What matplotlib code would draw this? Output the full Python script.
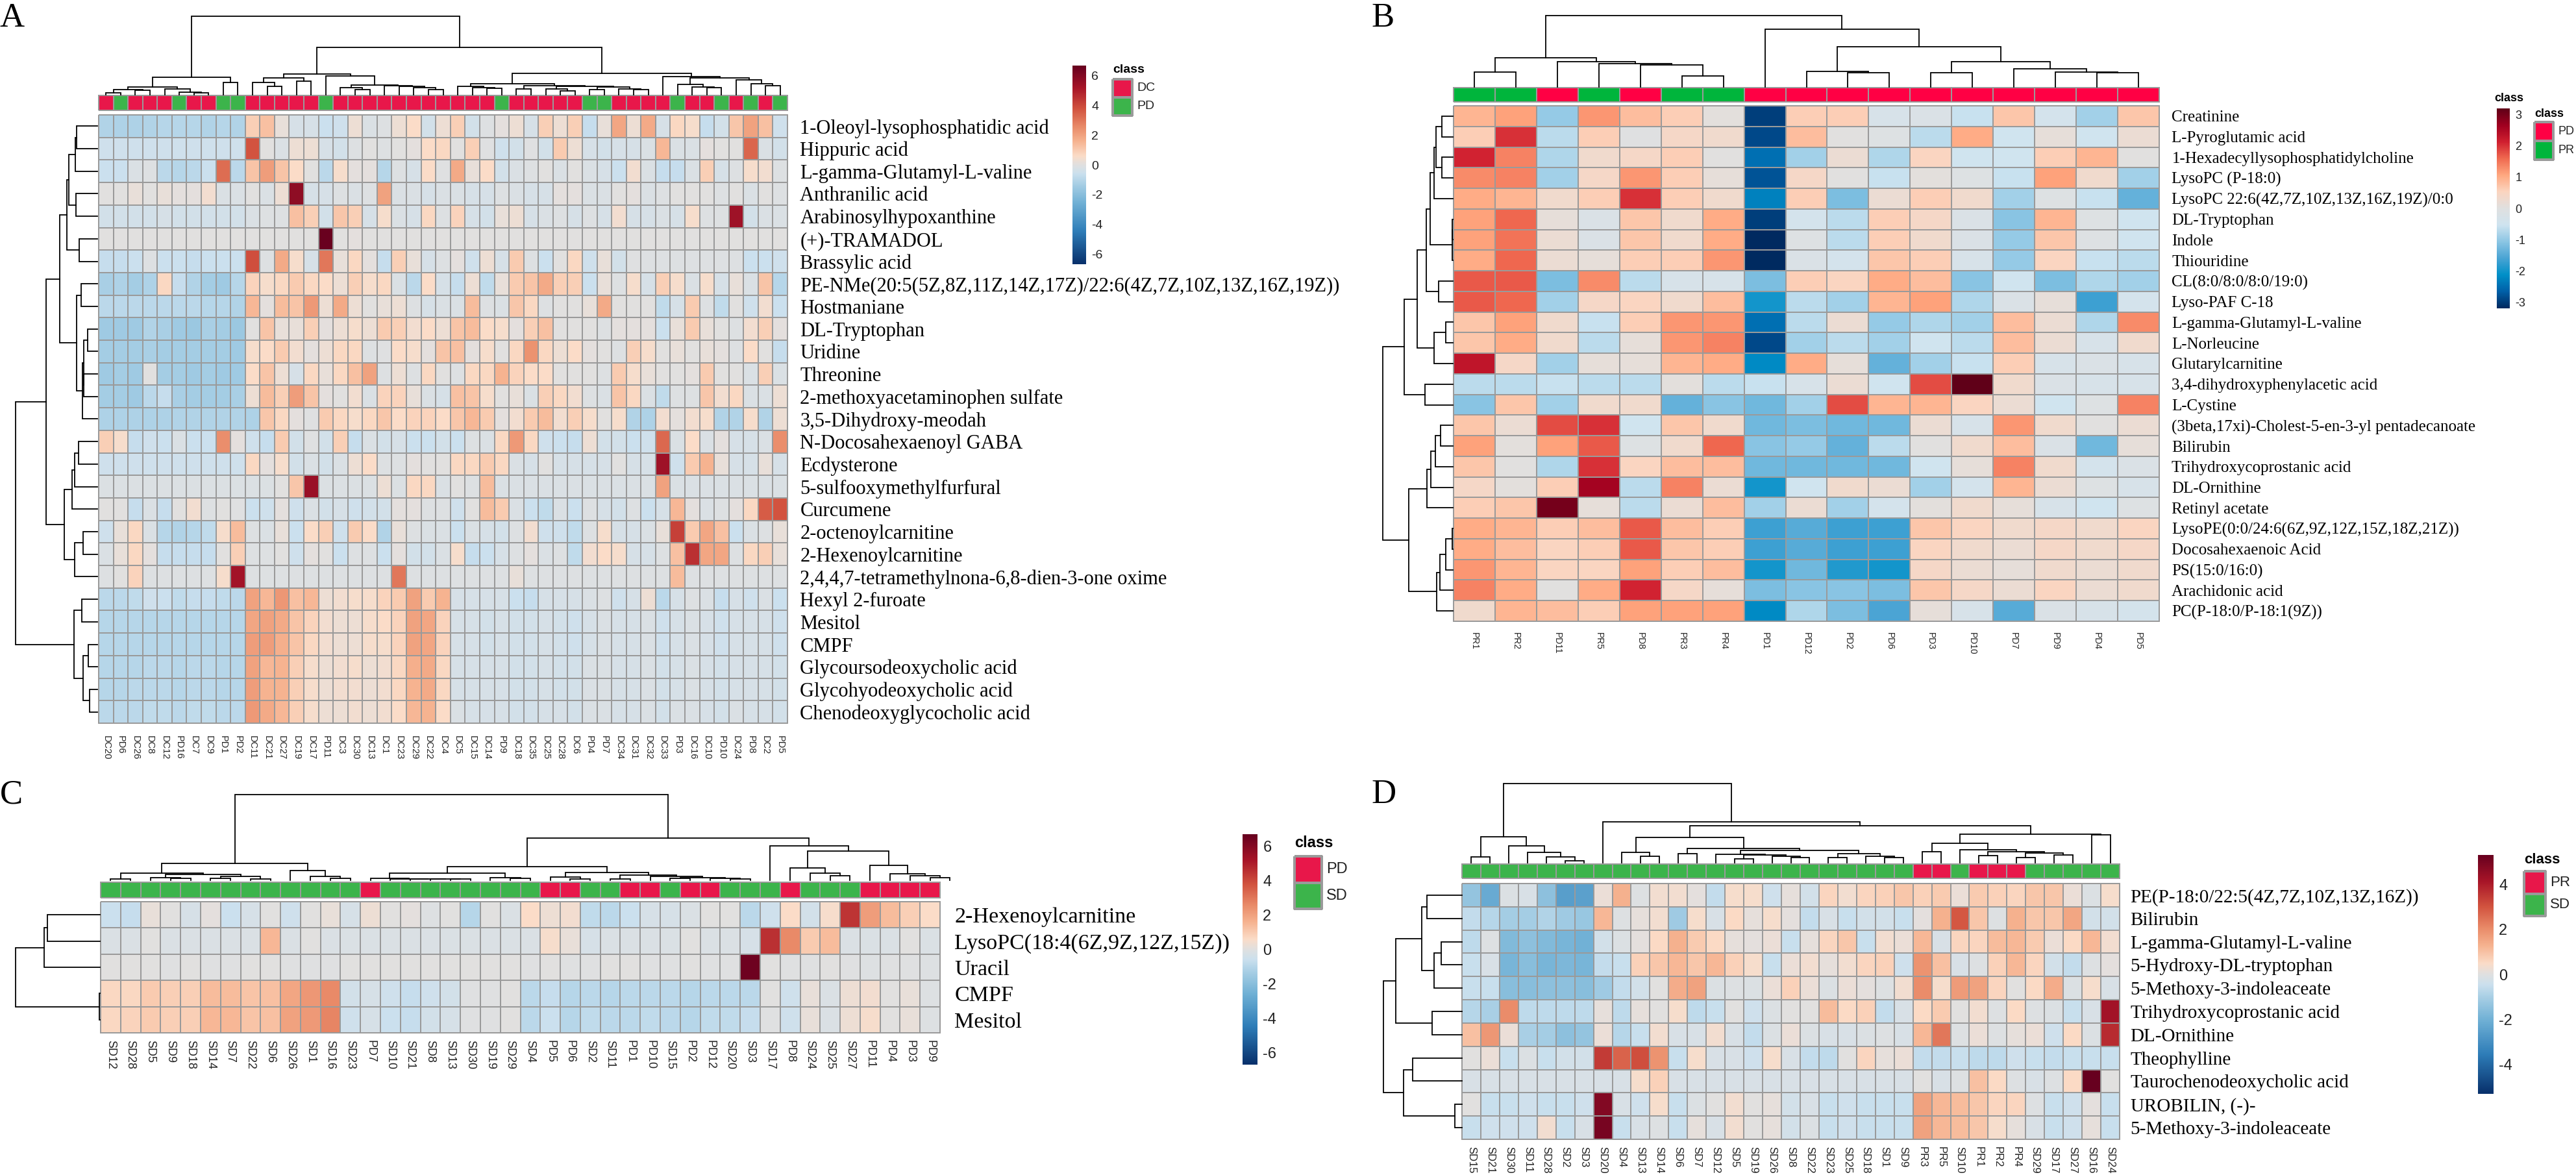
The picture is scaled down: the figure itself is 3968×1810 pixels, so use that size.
import matplotlib
matplotlib.use("Agg")
import matplotlib.pyplot as plt
import numpy as np
from matplotlib.colors import LinearSegmentedColormap, ListedColormap

W, H = 3968, 1810

a_rows = ["1-Oleoyl-lysophosphatidic acid", "Hippuric acid", "L-gamma-Glutamyl-L-valine", "Anthranilic acid",
          "Arabinosylhypoxanthine", "(+)-TRAMADOL", "Brassylic acid",
          "PE-NMe(20:5(5Z,8Z,11Z,14Z,17Z)/22:6(4Z,7Z,10Z,13Z,16Z,19Z))", "Hostmaniane", "DL-Tryptophan", "Uridine",
          "Threonine", "2-methoxyacetaminophen sulfate", "3,5-Dihydroxy-meodah", "N-Docosahexaenoyl GABA",
          "Ecdysterone", "5-sulfooxymethylfurfural", "Curcumene", "2-octenoylcarnitine", "2-Hexenoylcarnitine",
          "2,4,4,7-tetramethylnona-6,8-dien-3-one oxime", "Hexyl 2-furoate", "Mesitol", "CMPF",
          "Glycoursodeoxycholic acid", "Glycohyodeoxycholic acid", "Chenodeoxyglycocholic acid"]
a_cols = ["DC20", "PD6", "DC26", "DC8", "DC12", "PD16", "DC7", "DC9", "PD1", "PD2", "DC11", "DC21", "DC27", "DC19",
          "DC17", "PD11", "DC3", "DC30", "DC13", "DC1", "DC23", "DC29", "DC22", "DC4", "DC5", "DC15", "DC14", "PD9",
          "DC18", "DC35", "DC25", "DC28", "DC6", "PD4", "PD7", "DC34", "DC31", "DC32", "DC33", "PD3", "DC16", "DC10",
          "PD10", "DC24", "PD8", "DC2", "PD5"]
a_class = [0, 1, 0, 0, 0, 1, 0, 0, 1, 1, 0, 0, 0, 0, 0, 1, 0, 0, 0, 0, 0, 0, 0, 0, 0, 0, 0, 1, 0, 0, 0, 0, 0, 1, 1, 0,
           0, 0, 0, 1, 0, 0, 1, 0, 1, 0, 1]
a_values = [
    [-1.1, -1.2, -1.2, -1.1, -1.0, -1.0, -1.0, -1.1, -1.0, -1.1, .9, 1.3, .2, -.3, -.3, -.6, -.5, .3, -.2, -.1, .3, .6, -.4, .3, .9, -.4, -.1, .1, .3, -.3, .9, .3, .9, -.7, .2, 1.9, .3, 1.8, -.3, .7, .5, -.7, -.4, 1.1, 2.0, 1.3, -.5],
    [-.5, -.5, -.5, -.5, -.5, -.5, -.5, -.5, -.5, -.5, 3.8, 0, -.2, .3, .3, -.3, -.4, -.1, 0, -.1, 0, .1, .6, .7, 0, .9, -.05, -.5, -.4, -.05, -.4, 1.0, .3, -.3, -.4, -.3, -.3, -.2, 1.5, -.2, -.2, .1, 0, 0, 3.4, -.2, -.4],
    [-.6, -.6, -.2, -.1, -.9, -1.0, -.9, -.6, 3.2, -.9, 1.2, 2.1, 1.2, .6, .05, -.9, .5, .1, .1, -1.0, -.1, -.3, .6, -.05, 1.8, .2, .6, -.4, -.2, -.1, 0, -.2, 0, -.2, -.3, -.6, .4, -.2, -.7, -.7, -.2, .9, -.3, -.1, .5, .4, -.1],
    [.05, .05, .2, .05, .2, .1, .1, .4, -.2, -.2, .05, -.2, .3, 5.8, -.3, -.3, -.1, -.2, -.1, 2.0, -.2, -.2, -.3, -.2, -.2, -.3, -.3, -.1, -.2, -.3, -.3, .1, .1, -.2, -.2, .05, .1, -.2, -.1, .05, .05, .05, -.1, .05, -.2, 0, -.1],
    [-.4, -.4, -.4, -.4, -.3, -.4, -.4, -.4, -.4, -.4, -.2, -.1, -.1, 1.3, .9, -.4, 1.1, .9, -.3, .5, -.2, -.3, .7, -.1, .8, -.3, -.4, .2, .3, -.3, -.2, -.1, -.3, -.1, -.3, .4, -.3, -.3, -.2, -.3, .5, -.1, -.1, 5.4, -.4, -.2, -.2],
    [.05, .05, .05, .05, .05, .05, .05, .05, .05, .05, .05, .05, .05, 0, 0, 6.6, .05, .1, .05, .05, .05, .05, .05, .05, .05, .05, .05, .05, .05, .05, .05, .05, .05, .05, .05, .05, .05, .05, .05, .05, .05, .05, .05, .05, .05, .05, .05],
    [-.7, -.7, -.6, -.1, -.6, -.6, -.7, -.6, -.6, -.6, 3.9, -.1, 1.8, .5, -.3, 3.0, .2, .7, .1, -.7, .9, .2, -.3, -.1, .1, -.5, .3, -.3, 1.0, -.1, -.6, 0, .7, -.5, .2, -.4, -.05, -.1, -.1, -.1, -.1, -.1, -.1, -.1, -.6, -.6, -.5],
    [-1.3, -1.2, -1.4, -1.2, .7, -.7, -1.1, -1.4, -1.5, -1.0, .8, .5, .7, 1.0, .7, .6, .3, .9, .5, .7, -.2, -.9, .6, -.3, -.7, .3, -.8, .2, 1.0, 1.2, 1.8, .9, .9, -.6, .2, -.1, .5, -.3, .9, .5, -.2, .5, -.3, .2, -.2, 1.2, -1.0],
    [-.9, -.9, -.9, -.9, -.9, -.9, -.9, -1.0, -1.0, -1.1, 1.5, .1, 1.4, 1.2, 2.2, .3, 1.8, .3, .05, .2, .3, -.1, -.3, -.2, -.2, 1.4, -.1, -.2, 1.1, .7, -.1, 0, 0, .2, 1.8, 0, 0, 0, -.8, -.3, 1.0, -.1, -.8, 0, -.5, .4, -.6],
    [-1.5, -1.5, -1.5, -1.1, -1.3, -1.5, -1.6, -1.3, -1.4, -1.6, 0, 1.2, .2, .2, .9, .1, .3, .5, .3, 1.0, .9, .4, .6, .3, 1.2, 1.4, .6, .5, .1, .9, 1.3, 0, 0, 0, -.1, .1, .1, .1, -.6, .2, 1.0, .2, 0, -.1, .4, .9, .1],
    [-1.4, -1.4, -1.4, -1.3, -1.4, -1.4, -1.4, -1.4, -1.4, -1.5, .5, .6, 1.0, .4, .1, .3, .7, .7, -.1, -.05, .6, .5, .1, 1.2, 1.3, .1, .5, .05, .7, 2.4, .7, .3, .6, .1, 0, -.1, .9, .5, 0, .2, 0, .2, .1, -.1, .6, 0, -.7],
    [-1.5, -1.4, -1.5, 0, -1.4, -1.4, -1.5, -1.4, -1.5, -1.5, .6, 1.2, .3, -.3, .7, .2, .7, 1.3, 2.0, -.1, .3, -.1, .7, 0, -.1, .7, .7, 1.6, .8, .6, .6, 0, 0, 0, -.1, 1.0, .5, .2, 0, 0, .1, 1.0, 0, 0, -.2, .9, -.2],
    [-1.4, -1.4, -1.5, -.9, -.7, -1.3, -1.4, -1.4, -1.4, -1.3, .3, 1.4, .9, 2.1, 1.2, .1, 0, .4, -.2, .8, .8, .2, -.2, -.3, 1.3, 1.2, .5, 0, .2, -.2, .9, .7, .4, -.1, -.2, 1.2, .7, -.2, -.8, -.1, -.1, 1.1, .4, .7, -.2, -.2, .3],
    [-1.2, -1.2, -1.2, -1.2, -1.2, -1.1, -1.1, -1.1, -1.1, -1.1, -1.2, 1.1, .7, .1, -.05, 1.0, .7, .5, .7, 1.1, .6, .8, .8, .6, 1.1, 1.5, 1.0, .1, .4, 1.0, 1.4, .4, .9, .5, 0, .5, -1.1, -1.2, .4, .1, .4, .5, -1.1, -1.1, .5, -1.1, .3],
    [.9, .5, -.7, -.5, -.6, -.2, -.6, -.6, 2.5, .1, -.5, -.7, 1.0, -.4, -.05, -.4, .9, -.7, -.2, -.4, -.3, -.6, -.6, -.4, -.6, -.1, -.2, .7, 2.2, .7, -.5, -.6, -.7, .3, -.4, -.4, -.6, -.5, 3.3, -.2, .6, -.2, .1, -.3, -.3, -.2, 2.5],
    [-.5, -.5, -.5, -.5, -.5, -.5, -.5, -.5, -.5, -.5, .7, .1, .5, -.4, -.2, -.4, -.2, .3, .6, -.1, -.1, .1, 0, .05, .7, .7, 1.0, .7, -.2, -.3, 0, -.3, -.3, -.3, -.3, 0, -.3, -.3, 5.4, -.5, 1.0, 1.6, .2, -.3, -.3, .2, -.3],
    [-.15, -.15, -.15, -.15, -.15, -.15, -.15, -.15, -.15, -.15, -.15, -.15, .05, 1.1, 5.5, -.15, -.15, -.15, -.15, .3, -.15, .7, .7, -.2, 0, -.1, 1.4, -.2, -.2, -.2, -.2, -.2, -.2, -.2, -.2, -.2, -.2, -.2, 2.0, -.2, -.2, -.2, -.2, -.2, -.2, -.2, -.2],
    [.05, 0, -.7, -.2, -.7, .05, .4, -.1, 0, -.05, -.6, -.5, .1, -.5, -.2, -.4, -.3, -.5, -.4, -.4, .1, .1, -.1, -.1, -.5, .05, 1.4, 1.0, -.2, -.6, -.8, -.2, -.6, -.1, -.3, -.4, -.1, -.6, -.3, 1.5, .1, -.2, -.1, .1, .7, 3.6, 3.8],
    [-.5, .2, .7, -.2, -1.0, -1.1, -1.0, -.8, .5, 1.4, -.1, -.2, .2, -.6, .6, .9, -.5, 1.0, .6, -1.1, .2, -.1, -.2, -.2, -.6, -.2, -.3, -.4, -.1, .4, -.5, -.5, -.8, -.1, .5, -.3, -.3, -.2, .2, 4.2, 1.0, 1.9, 1.3, -.6, -.2, -.1, .2],
    [-.2, .2, .7, .1, -.7, -.7, -.7, -.7, 0, .9, -.1, -.1, 0, -.5, .1, 0, -.6, -.1, -.1, -.6, .1, -.4, -.4, -.2, .5, -.7, -.6, -.3, -.1, .1, -.2, -.1, -.8, .4, .6, .5, -.3, -.3, -.1, 1.3, 4.6, 1.9, 1.9, -.1, .7, .9, .2],
    [-.1, .05, .8, -.1, -.1, -.1, -.1, -.1, .5, 5.3, -.1, -.1, -.1, -.1, -.1, -.1, -.1, -.1, -.1, -.1, 3.0, -.1, -.1, -.1, -.1, -.1, -.1, -.1, .2, -.1, -.1, -.1, -.1, -.1, -.1, -.1, -.1, -.1, -.1, 1.4, -.1, -.1, -.1, -.1, -.1, -.1, -.1],
    [-.9, -.9, -.8, -.5, -.6, -.8, -.7, -.7, -.8, -.9, 2.0, 1.5, 2.3, 1.3, 1.5, .3, .4, .5, .5, .8, 1.0, 2.0, 1.0, 1.6, -.3, -.3, -.3, -.3, -.6, -.7, -.3, -.3, -.3, -.2, -.1, -.5, -.3, .3, -.9, -.3, -.1, -.2, -.7, -.3, -.5, -.2, -.6],
    [-1.0, -1.0, -1.0, -1.0, -1.0, -1.0, -1.0, -1.0, -1.0, -1.0, 1.9, 2.0, 1.8, 1.2, .8, .4, .3, .3, .5, .6, .8, 2.0, 1.9, .8, -.3, -.3, -.4, -.3, -.4, -.4, -.3, -.4, -.5, -.3, -.2, -.3, -.3, -.2, -.5, -.3, -.2, -.3, -.5, -.3, -.3, -.3, -.5],
    [-1.0, -1.0, -1.0, -1.0, -1.0, -1.0, -1.0, -1.0, -1.0, -1.0, 2.1, 2.1, 1.7, 1.2, .7, .4, .3, .3, .5, .5, .8, 2.0, 1.9, .8, -.3, -.3, -.4, -.3, -.4, -.4, -.3, -.4, -.5, -.3, -.2, -.3, -.3, -.2, -.5, -.3, -.2, -.3, -.5, -.3, -.3, -.3, -.5],
    [-1.0, -1.0, -1.0, -.9, -.9, -1.0, -.9, -.9, -1.0, -1.0, 2.0, 1.5, 1.6, .9, .5, .3, .4, .5, .3, .4, .7, 1.7, 1.8, .7, -.3, -.3, -.3, -.3, -.4, -.4, -.3, -.4, -.4, -.2, -.2, -.3, -.3, -.2, -.4, -.3, -.2, -.3, -.4, -.3, -.3, -.3, -.4],
    [-1.0, -1.0, -.9, -.9, -.9, -1.0, -.9, -.9, -1.0, -1.0, 2.1, 1.6, 1.6, .9, .5, .3, .4, .4, .3, .4, .7, 1.6, 1.8, .7, -.3, -.3, -.3, -.3, -.4, -.4, -.3, -.4, -.4, -.2, -.2, -.3, -.3, -.2, -.4, -.3, -.2, -.3, -.4, -.3, -.3, -.3, -.4],
    [-.9, -.9, -.9, -.8, -.8, -.9, -.8, -.8, -.9, -.9, 2.2, 1.8, 1.5, .9, .5, .3, .3, .4, .3, .4, .6, 1.5, 1.6, .6, -.2, -.3, -.3, -.3, -.4, -.4, -.3, -.3, -.4, -.2, -.2, -.3, -.3, -.2, -.4, -.2, -.2, -.3, -.4, -.2, -.3, -.3, -.4],
]
# (merge height in px, left branch, right branch); 0 is a leaf
a_col_tree = (121,
              (27, (12, (8, (3, 0, 0), (7, 0, 0)), (9, 0, (4, 0, (3, 0, 0)))), (19, 0, 0)),
              (73,
               (32, (26, (19, 0, (13, 0, 0)), (21, 0, 0)),
                (29, 0, (15, (11, 0, (8, 0, 0)), (14, 0, (13, 0, (11, 0, (8, 0, 0))))))),
               (33,
                (17, (13, 0, (11, 0, (10, 0, 0))),
                 (14, (9, 0, 0), (13, (9, 0, (6, 0, 0)), (12, (8, 0, 0), (9, 0, (8, 0, 0)))))),
                (28, 0, (26, (16, 0, (12, 0, (11, 0, 0))), (23, 0, (17, 0, (14, 0, 0))))))))
a_row_tree = (126,
              (79,
               (58,
                (47, (44, (34, (32, 0, 0), 0), (33, 0, 0)), (28, 0, 0)),
                (32, (25, 0, 0), (23, (21.5, (15, 0, 0), (21, 0, 0)), 0))),
               (51, (39, (35, (29, 0, 0), 0), 0), (35, (22, 0, 0), 0))),
              (36, (24, 0, 0), (22, (14, 0, 0), (12, 0, 0))))

b_rows = ["Creatinine", "L-Pyroglutamic acid", "1-Hexadecyllysophosphatidylcholine", "LysoPC (P-18:0)",
          "LysoPC 22:6(4Z,7Z,10Z,13Z,16Z,19Z)/0:0", "DL-Tryptophan", "Indole", "Thiouridine", "CL(8:0/8:0/8:0/19:0)",
          "Lyso-PAF C-18", "L-gamma-Glutamyl-L-valine", "L-Norleucine", "Glutarylcarnitine",
          "3,4-dihydroxyphenylacetic acid", "L-Cystine", "(3beta,17xi)-Cholest-5-en-3-yl pentadecanoate", "Bilirubin",
          "Trihydroxycoprostanic acid", "DL-Ornithine", "Retinyl acetate", "LysoPE(0:0/24:6(6Z,9Z,12Z,15Z,18Z,21Z))",
          "Docosahexaenoic Acid", "PS(15:0/16:0)", "Arachidonic acid", "PC(P-18:0/P-18:1(9Z))"]
b_cols = ["PR1", "PR2", "PD11", "PR5", "PD8", "PR3", "PR4", "PD1", "PD12", "PD2", "PD6", "PD3", "PD10", "PD7", "PD9",
          "PD4", "PD5"]
b_class = [1, 1, 0, 1, 0, 1, 1, 0, 0, 0, 0, 0, 0, 0, 0, 0, 0]
b_values = [
    [.9, 1.1, -1.0, 1.2, .8, .6, .05, -3.0, .6, .6, -.3, -.2, -.6, .7, -.4, -.9, .7],
    [.6, 2.0, -.7, .6, -.05, .4, .3, -2.9, .8, 0, -.1, -.7, 1.0, -.5, .1, -.5, .2],
    [2.1, 1.4, -.8, .3, .4, .6, 0, -2.5, -.9, .2, -.8, .5, -.5, -.5, .6, .9, 0],
    [1.3, 1.4, -.9, .4, 1.2, .6, .1, -2.8, .4, 0, -.6, .05, -.1, -.6, 1.1, .3, -.9],
    [1.0, .9, .3, .6, 2.0, .6, .3, -2.3, .6, -1.2, .2, .6, .3, -.9, -.1, -.6, -1.4],
    [1.1, 1.6, .1, -.2, .7, .3, 1.0, -3.0, -.4, -.7, .6, .4, -.2, -1.1, .9, -.1, -.5],
    [1.1, 1.5, .2, -.2, .7, .3, 1.0, -3.2, -.1, -.7, .6, .3, -.2, -1.0, .7, -.1, -.5],
    [1.0, 1.6, .2, .1, .6, .6, 1.2, -3.2, -.2, -.4, .7, .6, -.3, -1.0, .5, -.6, -.7],
    [1.7, 1.7, -1.2, 1.3, -.7, -.3, -.3, -1.2, .6, .5, 1.0, .8, -1.1, -.5, -1.2, -.8, -.9],
    [1.7, 1.6, -.9, .4, .5, .3, .8, -2.0, -.7, -.9, .9, 1.1, -.8, -.2, .1, -1.7, -.4],
    [.7, 1.1, .3, -.6, .6, 1.2, 1.2, -2.5, -.7, .2, -1.0, -.8, -.9, .8, .2, -.8, 1.3],
    [.7, 1.0, .3, -.7, .1, 1.2, 1.4, -2.9, -.9, -.7, -.9, -.5, -.7, .8, .2, -.3, .3],
    [2.3, .4, -.9, .1, .1, .9, 1.0, -2.2, 1.0, .1, -1.4, -.9, -.6, .6, -.3, -.2, -.3],
    [-.7, -.7, -.6, -.7, -.7, .05, -.7, -.6, -.3, .2, -.5, 1.8, 3.2, .3, -.2, -.3, -.3],
    [-1.1, .7, -.9, .3, .3, -1.4, -1.1, -1.3, -.9, 1.8, .9, .9, .5, .2, -.5, -.1, 1.4],
    [.7, .2, 1.8, 2.0, -.5, .7, .3, -1.3, -1.2, -1.3, -1.3, .2, -.3, 1.2, .3, 0, .2],
    [1.1, .05, 1.1, 1.7, -.1, .3, 1.6, -1.1, -1.0, -1.4, -.7, 0, .3, .8, -.2, -1.3, .1],
    [.7, 0, -.8, 2.0, .5, .8, .8, -1.3, -1.3, -1.3, -1.3, -.5, .1, 1.4, .3, -.4, -.2],
    [.4, .05, .6, 2.6, -.7, 1.4, .2, -2.0, -.5, .3, .2, -.9, -.4, .9, .2, -.1, -.3],
    [.6, .7, 3.0, .1, -.7, .2, .8, -.9, .2, -.9, -.4, .05, .3, .1, -.3, -.5, -.1],
    [1.0, .9, .6, .8, 1.7, .8, .6, -1.7, -1.5, -1.7, -1.7, .7, .5, .3, .4, .3, .5],
    [1.0, .8, .5, .6, 1.7, .7, .6, -1.7, -1.5, -1.7, -1.7, .5, .3, .2, .4, .3, .4],
    [1.2, .9, .5, .5, 1.1, .6, .8, -2.0, -1.3, -1.9, -2.0, .4, .2, .1, .3, .2, .3],
    [1.4, 1.0, 0, 1.0, 2.1, .4, .1, -1.2, -1.1, -1.1, -1.2, .7, .4, .2, .5, .2, .3],
    [.3, .9, .8, .6, 1.1, 1.1, 1.1, -2.2, -.8, -1.2, -1.6, .1, -.3, -1.5, -.2, -.3, -.4],
]
b_col_tree = (110,
              (45, (23, 0, 0), (39, 0, (36, 0, (34, 0, (17, 0, 0))))),
              (89, 0, (62, (24, 0, (22, 0, 0)), (39, (22, 0, 0), (28, 0, (23, 0, (22, 0, 0)))))))
b_row_tree = (108,
              (75,
               (55,
                (41,
                 (35, (29, (26, (17, 0, 0), (17, 0, 0)), 0), (1.5, (1, 0, 0), 0)),
                 (22, 0, 0)),
                (29, (11, 0, 0), 0)),
               (43, 0, 0)),
              (68,
               (40, (34, (27, (19, 0, 0), 0), 0), 0),
               (25, (20, (11, (1, 0, 0), 0), 0), 0)))

c_rows = ["2-Hexenoylcarnitine", "LysoPC(18:4(6Z,9Z,12Z,15Z))", "Uracil", "CMPF", "Mesitol"]
c_cols = ["SD12", "SD28", "SD5", "SD9", "SD18", "SD14", "SD7", "SD22", "SD6", "SD26", "SD1", "SD16", "SD23", "PD7",
          "SD10", "SD21", "SD8", "SD13", "SD30", "SD19", "SD29", "SD4", "PD5", "PD6", "SD2", "SD11", "PD1", "PD10",
          "SD15", "PD2", "PD12", "SD20", "SD3", "SD17", "PD8", "SD24", "SD25", "SD27", "PD11", "PD4", "PD3", "PD9"]
c_class = [0 if s.startswith("PD") else 1 for s in c_cols]
c_values = [
    [-.6, -.7, .2, 0, -.3, .1, -.6, -.3, 0, -.5, 0, .2, -.3, .3, .05, .1, -.1, .05, -1.0, 0, -.2, .6, .3, .4, -.8, -.9, -.6, -.3, -.3, -.2, .05, .05, -.9, -.5, .6, -.4, .5, 4.5, 2.1, 1.4, .9, .6],
    [-.2, -.2, .05, -.2, -.2, -.2, -.2, -.2, 1.5, -.2, .05, -.2, -.2, -.2, -.2, -.2, -.2, -.2, -.2, -.2, -.2, -.2, .5, .2, -.3, -.2, -.2, -.2, -.2, 0, -.2, -.2, -.3, 4.6, 2.6, 1.0, 1.4, -.2, -.2, -.2, 0, -.2],
    [0, 0, 0, -.05, 0, -.05, -.05, 0, 0, -.05, -.05, -.05, 0, 0, .05, .05, .05, .05, 0, 0, 0, -.05, 0, -.05, -.05, 0, 0, -.05, -.05, 0, -.05, -.05, 6.5, 0, -.05, -.05, 0, -.05, -.1, -.05, -.05, -.1],
    [.7, .7, 1.0, .9, .9, 1.4, 1.4, 1.2, 1.3, 1.9, 2.3, 2.6, -.4, -.3, -.5, -.7, -.5, -.4, -.05, -.05, .05, -.9, -.7, -1.0, -.9, -1.0, -.9, -.9, -.9, -1.0, -.9, -.9, -.9, 0, -.5, .2, -.2, .3, .4, 0, .2, -.1],
    [.7, .8, 1.0, .9, .9, 1.5, 1.5, 1.2, 1.3, 2.0, 2.2, 2.7, -.5, -.3, -.6, -.7, -.4, -.3, -.05, -.05, .05, -.9, -.6, -1.0, -.8, -.9, -.9, -.8, -.9, -1.0, -.8, -.8, -.7, -.05, -.5, .2, -.2, .3, .5, 0, .2, -.1],
]
c_col_tree = (132,
              (26,
               (11, (2, 0, 0), (9, (4, 0, (3, 0, 0)), (6, (3, 0, 0), (2, 0, 0)))),
               (15, 0, (6, 0, (3, 0, 0)))),
              (65,
               (21,
                (11, (3, 0, (2.5, 0, (2, 0, (2, 0, (2, 0, 0))))), (4, 0, (3, 0, 0))),
                (12, (5, 0, (2.5, 0, 0)), (8, (2, 0, 0), (6, 0, (4, (3, 0, 0), (3, 0, (2, 0, 0))))))),
               (53, 0, (45, (19, 0, (11, 0, (7, 0, 0))), (23, 0, (10, 0, (7, 0, (4, 0, 0))))))))
c_row_tree = (130, (86, (81, 0, 0), 0), (1, 0, 0))

d_rows = ["PE(P-18:0/22:5(4Z,7Z,10Z,13Z,16Z))", "Bilirubin", "L-gamma-Glutamyl-L-valine", "5-Hydroxy-DL-tryptophan",
          "5-Methoxy-3-indoleaceate", "Trihydroxycoprostanic acid", "DL-Ornithine", "Theophylline",
          "Taurochenodeoxycholic acid", "UROBILIN, (-)-", "5-Methoxy-3-indoleaceate"]
d_cols = ["SD15", "SD21", "SD30", "SD11", "SD28", "SD2", "SD3", "SD20", "SD4", "SD13", "SD14", "SD6", "SD7", "SD12",
          "SD5", "SD19", "SD26", "SD8", "SD22", "SD23", "SD25", "SD18", "SD1", "SD9", "PR3", "PR5", "SD10", "PR1",
          "PR2", "PR4", "SD29", "SD17", "SD27", "SD16", "SD24"]
d_class = [0 if s.startswith("PR") else 1 for s in d_cols]
d_values = [
    [-1.4, -2.2, -.1, -.2, -1.5, -2.6, -2.5, .2, 1.3, -.05, .3, .3, .05, -.6, .4, .4, -.4, .1, -.3, .6, .3, .6, .7, .9, .7, .8, .2, .8, .7, .6, .9, .9, .2, -.1, .4],
    [-.6, -.8, -1.1, -1.1, -.9, -1.2, -1.3, 1.2, -.05, .1, .3, -1.2, .4, -.2, .5, .1, .4, .05, -.6, -.2, -.5, -.3, -.3, -.5, .05, 1.3, 2.9, .9, -.05, 1.3, .9, .9, 1.5, -.3, -.3],
    [-.7, -.05, -1.7, -1.5, -1.7, -1.9, -2.0, -.3, -.1, .05, .5, 1.3, .8, .5, .1, .05, .2, -.5, .1, .6, .9, -.5, .3, .2, 1.2, -.2, .6, .6, 1.1, 1.2, .8, .2, .5, 1.2, .3],
    [-.5, -.2, -1.9, -1.6, -1.9, -1.8, -1.9, -.6, -.5, .7, .9, 1.2, .9, 1.2, .7, .4, -.5, .2, .3, .1, .3, .6, .7, -.4, 1.9, 1.0, -.2, -.05, .7, 1.2, .6, -.3, -.6, -.05, .05],
    [-.5, -.5, -1.6, -1.6, -1.5, -1.5, -1.6, -1.2, -.6, -.3, 0, 1.4, 1.6, -.1, -.05, -.1, .2, .7, .2, -.1, .2, .05, -.05, .3, 2.0, .4, 1.7, 1.6, .6, 0, .5, 1.4, -.1, .4, -.2],
    [-.8, -1.0, 2.0, -.7, -.7, -.7, -.7, .1, -.7, .1, 0, .4, -.7, -.5, 0, -.4, -.1, 0, 0, 1.1, .5, .7, -.6, -.2, .5, .8, 0, .3, -.05, .5, -.05, -.1, -.5, -.2, 4.2],
    [1.0, 1.8, .2, -1.0, -1.1, -1.5, -1.4, .2, -.8, -.5, .3, -.2, -.2, .3, -.2, -.6, -.1, .2, -.1, -.2, -.2, -.1, -.05, -.2, 1.2, 2.4, -.05, .2, -.05, .1, .2, -.4, .5, -.1, 3.7],
    [0, .2, -.5, -.1, -.5, -.3, -.3, 3.4, 2.7, 3.1, 1.9, -.5, .4, -.2, -.2, -.4, .4, -.2, -.6, -.7, 0, .6, .1, .2, -.6, -.6, -.5, -.7, -.7, -.4, -.5, -.6, -.5, -.5, -.5],
    [-.2, -.2, -.2, -.2, -.2, -.2, -.2, -.2, -.2, .4, .7, -.2, -.2, -.2, -.2, -.2, -.2, -.2, -.2, -.2, -.2, -.2, -.2, -.2, 0, -.2, -.05, 1.0, .5, -.05, -.2, -.05, .5, 5.3, 0],
    [0, -.5, -.5, -.4, -.5, -.5, -.4, 4.8, -.2, -.4, .4, -.5, -.1, 0, .3, 0, .1, -.3, -.2, -.5, -.4, -.5, -.5, -.5, 1.6, 1.2, 1.1, .9, .6, .6, -.05, -.5, -.4, .05, -.5],
    [-.5, -.4, -.4, -.4, .3, -.5, -.2, 5.0, -.5, -.2, -.05, -.5, .1, -.2, .3, 0, .1, -.3, -.1, -.5, -.4, -.5, -.5, -.5, 1.6, 1.2, 1.1, .9, .4, .1, -.2, -.5, -.4, .1, -.5],
]
d_col_tree = (122,
              (40, (9, 0, 0), (26, 0, (16, 0, (9, 0, (3, 0, 0))))),
              (63, 0,
               (57,
                (39,
                 (16, 0, (10, 0, 0)),
                 (22, (14, 0, 0),
                  (19,
                   (13, 0, (12, (6, 0, 0), (10, 0, (8, 0, 0)))),
                   (14, (8, 0, 0), (10, 0, (8, 0, 0)))))),
                (44,
                 (30, (17, 0, 0), (20, 0, (17, (11, 0, 0), (15, (8, 0, 0), (12, 0, 0))))),
                 (43, 0, 0)))))
d_row_tree = (121,
              (102,
               (62, (54, 0, 0), (43, (32, 0, 0), 0)),
               (46, 0, 0)),
              (90, (76, 0, 0), (11, 0, 0)))

RED, GREEN = "#E8174A", "#3CB44B"
RED_B, GREEN_B = "#FF0044", "#00B53C"
GRID = "#9A9A9A"
soft_stops = [(-6.7, "#08306B"), (-4.5, "#2E7DB8"), (-2.6, "#6FB0D5"), (-1.3, "#A8CFE5"), (-.6, "#CBE0EE"),
              (0, "#E0E0E0"), (.6, "#FBDCC8"), (1.6, "#F6B390"), (2.6, "#E98A68"), (3.8, "#D2533F"),
              (5.2, "#A81528"), (6.7, "#67001F")]
cmap_soft = LinearSegmentedColormap.from_list("soft", [((v + 6.7) / 13.4, c) for v, c in soft_stops])
cmap_b = LinearSegmentedColormap.from_list(
    "vivid", ["#002A60", "#0060A8", "#0090C8", "#4AA4D4", "#8CC6E4", "#CFE4F0", "#E0E0E0", "#FBD5C0", "#FFA880",
              "#F06A50", "#D02030", "#A00020", "#600018"])

plt.rcParams["font.family"] = ["Liberation Sans", "DejaVu Sans"]
fig = plt.figure(figsize=(W / 100, H / 100), dpi=100, facecolor="white")


def px_axes(x0, y0, x1, y1):
    ax = fig.add_axes([x0 / W, 1 - y1 / H, (x1 - x0) / W, (y1 - y0) / H])
    return ax


def px_text(x, y, s, **kw):
    fig.text(x / W, 1 - y / H, s, **kw)


def tree_segments(node, counter, segs):
    if node == 0:
        counter[0] += 1
        return counter[0] - 0.5, 0
    h, left, right = node
    pl, hl = tree_segments(left, counter, segs)
    pr, hr = tree_segments(right, counter, segs)
    segs.append(([pl, pl, pr, pr], [hl, h, h, hr]))
    return (pl + pr) / 2, h


def draw_tree(ax, tree, n, horizontal, lw):
    segs = []
    tree_segments(tree, [0], segs)
    for pos, hgt in segs:
        if horizontal:
            ax.plot(hgt, pos, color="black", lw=lw, solid_capstyle="projecting", solid_joinstyle="miter", clip_on=False)
        else:
            ax.plot(pos, hgt, color="black", lw=lw, solid_capstyle="projecting", solid_joinstyle="miter", clip_on=False)
    if horizontal:
        ax.set_xlim(tree[0], 0)
        ax.set_ylim(n, 0)
    else:
        ax.set_xlim(0, n)
        ax.set_ylim(0, tree[0])
    ax.axis("off")


def heatmap_panel(box, values, rows, cols, classes, colors, cmap, vmax, col_tree, row_tree, bar, tree_base, row_base,
                  label_size, tick_size, tick_pad, grid_lw, tree_lw, label_pad):
    x0, y0, x1, y1 = box
    vals = np.array(values, dtype=float)
    ax = px_axes(x0, y0, x1, y1)
    mesh = ax.pcolormesh(np.arange(len(cols) + 1), np.arange(len(rows) + 1), vals, cmap=cmap, vmin=-vmax, vmax=vmax,
                         edgecolors=GRID, linewidth=grid_lw)
    mesh.set_clip_on(False)
    ax.set_xlim(0, len(cols))
    ax.set_ylim(len(rows), 0)
    for s in ax.spines.values():
        s.set_visible(False)
    ax.set_xticks(np.arange(len(cols)) + 0.5, cols, rotation=270, fontsize=tick_size, color="#222222")
    ax.set_yticks(np.arange(len(rows)) + 0.5, rows, family="Liberation Serif", fontsize=label_size, color="black")
    ax.yaxis.tick_right()
    ax.tick_params(axis="x", length=0, pad=tick_pad)
    ax.tick_params(axis="y", length=0, pad=label_pad)

    bx = px_axes(x0, bar[0], x1, bar[1])
    bx.pcolormesh(np.arange(len(cols) + 1), [0, 1], np.array([classes]), cmap=ListedColormap(colors), vmin=0, vmax=1,
                  edgecolors=GRID, linewidth=grid_lw).set_clip_on(False)
    bx.axis("off")

    tx = px_axes(x0, tree_base - col_tree[0], x1, tree_base)
    draw_tree(tx, col_tree, len(cols), False, tree_lw)
    rx = px_axes(row_base - row_tree[0], y0, row_base, y1)
    draw_tree(rx, row_tree, len(rows), True, tree_lw)


def colorbar(box, cmap, vmax, ticks, size):
    ax = px_axes(*box)
    grad = np.linspace(vmax, -vmax, 256).reshape(-1, 1)
    ax.imshow(grad, aspect="auto", cmap=cmap, vmin=-vmax, vmax=vmax, extent=[0, 1, -vmax, vmax])
    ax.set_xticks([])
    ax.yaxis.tick_right()
    ax.set_yticks(ticks, [str(t) for t in ticks], fontsize=size, color="#222222")
    ax.tick_params(axis="y", length=0, pad=6)
    for s in ax.spines.values():
        s.set_visible(False)


def class_legend(box, names, colors, size, title_xy):
    x0, y0, x1, y1 = box
    ax = px_axes(x0, y0, x1, y1)
    ax.pcolormesh([0, 1], [0, 1, 2], np.array([[0], [1]]), cmap=ListedColormap(colors), vmin=0, vmax=1,
                  edgecolors=GRID, linewidth=1.6).set_clip_on(False)
    ax.set_ylim(2, 0)
    ax.axis("off")
    for i, name in enumerate(names):
        px_text(x1 + 7, y0 + (y1 - y0) * (i + 0.5) / 2, name, fontsize=size, va="center", color="#222222")
    px_text(title_xy[0], title_xy[1], "class", fontsize=size, fontweight="bold", va="center")


heatmap_panel((152, 177, 1213, 1114), a_values, a_rows, a_cols, a_class, [RED, GREEN], cmap_soft, 6.7, a_col_tree,
              a_row_tree, (147, 170), 146, 150, 22, 10.5, 14, 1.2, 1.3, 14)
heatmap_panel((2239, 163, 3326, 957), b_values, b_rows, b_cols, b_class, [RED_B, GREEN_B], cmap_b, 3.2, b_col_tree,
              b_row_tree, (135, 157), 134, 2238, 18, 10, 12, 1.2, 1.3, 14)
heatmap_panel((155, 1389, 1448, 1591), c_values, c_rows, c_cols, c_class, [RED, GREEN], cmap_soft, 6.7, c_col_tree,
              c_row_tree, (1359, 1383), 1356, 154, 24.5, 13, 8, 1.2, 1.3, 16)
heatmap_panel((2252, 1361, 3265, 1755), d_values, d_rows, d_cols, d_class, [RED, GREEN], cmap_soft, 5.3, d_col_tree,
              d_row_tree, (1331, 1353), 1329, 2252, 21, 12, 8, 1.2, 1.3, 12)

colorbar((1652, 101, 1673, 407), cmap_soft, 6.7, [6, 4, 2, 0, -2, -4, -6], 14)
class_legend((1714, 122, 1744, 178), ["DC", "PD"], [RED, GREEN], 14, (1714, 108))
colorbar((3846, 167, 3866, 475), cmap_b, 3.2, [3, 2, 1, 0, -1, -2, -3], 13)
px_text(3842, 152, "class", fontsize=13, fontweight="bold", va="center")
class_legend((3904, 188, 3933, 246), ["PD", "PR"], [RED_B, GREEN_B], 13, (3904, 175))
colorbar((1914, 1285, 1937, 1640), cmap_soft, 6.7, [6, 4, 2, 0, -2, -4, -6], 17)
class_legend((1994, 1319, 2036, 1400), ["PD", "SD"], [RED, GREEN], 17, (1994, 1298))
colorbar((3817, 1317, 3841, 1685), cmap_soft, 5.3, [4, 2, 0, -2, -4], 17)
class_legend((3888, 1342, 3921, 1411), ["PR", "SD"], [RED, GREEN], 16, (3888, 1325))

for (x, y, s) in [(0, 4, "A"), (2112, 4, "B"), (0, 1200, "C"), (2112, 1200, "D")]:
    px_text(x, y, s, family="Liberation Serif", fontsize=38, va="top", ha="left")

fig.savefig("out.png", dpi=100, facecolor="white")
